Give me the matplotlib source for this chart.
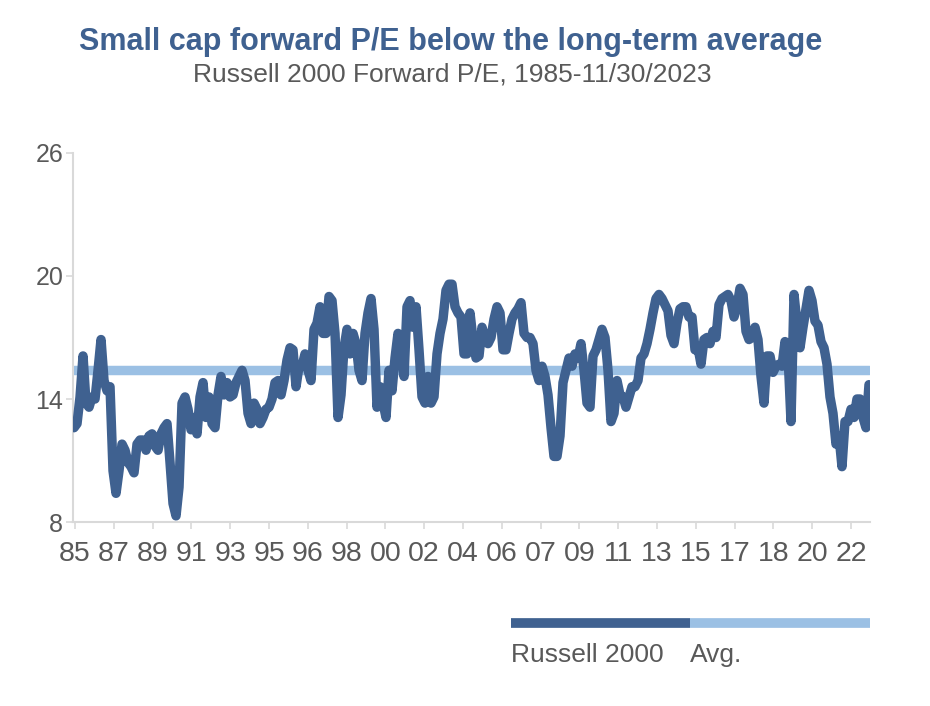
import numpy as np
import matplotlib
matplotlib.use('Agg')
import matplotlib.pyplot as plt
from matplotlib.lines import Line2D

# Russell 2000 forward P/E (roughly every 1.5 months, 1985 -> 11/2023)
pe_forward = [
    12.6, 12.8, 14.1, 16.1, 13.8, 13.6, 14.1, 14.0, 15.4, 16.9, 14.9, 14.4, 14.6, 10.5, 9.4, 10.5,
    11.8, 11.5, 10.9, 10.7, 10.4, 11.8, 12.0, 12.0, 11.5, 12.2, 12.3, 11.7, 11.5, 12.3, 12.6, 12.8,
    10.9, 8.9, 8.3, 9.7, 13.8, 14.1,
    13.5, 12.5, 13.1, 12.3, 14.1, 14.8, 13.1, 14.1, 12.8, 12.6, 14.2, 15.1, 14.2, 14.8, 14.1, 14.2,
    14.8, 15.1, 15.4, 14.9, 13.3, 12.8, 13.8, 13.5, 12.8, 13.1, 13.5, 13.6, 14.0, 14.8, 14.9, 14.2,
    14.9, 15.9, 16.5, 16.4, 14.6, 15.6,
    15.6, 16.2, 15.4, 14.9, 17.4, 17.7, 18.5, 17.2, 17.2, 19.0, 18.8, 17.2, 13.1, 14.2, 16.5, 17.4,
    16.2, 17.2, 16.7, 15.4, 14.9, 17.2, 18.2, 18.9, 17.4, 13.6, 14.6, 13.8, 13.1, 15.4, 14.4, 16.0,
    17.2, 16.7, 15.1, 18.5, 18.8, 17.5,
    18.5, 16.4, 14.1, 13.8, 15.1, 13.8, 14.1, 16.2, 17.2, 17.9, 19.3, 19.6, 19.6, 18.5, 18.2, 18.0,
    16.2, 16.2, 18.2, 16.9, 16.0, 16.1, 17.5, 17.0, 16.7, 17.0, 17.9, 18.5, 18.2, 16.4, 16.4, 17.2,
    17.9, 18.2, 18.4, 18.7, 17.2, 17.0,
    17.0, 16.7, 15.4, 14.9, 15.6, 15.1, 14.2, 12.6, 11.2, 11.2, 12.2, 14.8, 15.4, 16.0, 15.6, 16.2,
    16.0, 16.7, 15.4, 13.8, 13.6, 16.1, 16.4, 16.9, 17.4, 17.0, 15.4, 12.9, 13.3, 14.9, 14.2, 14.1,
    13.6, 14.1, 14.6, 14.6, 14.9, 16.0,
    16.2, 16.7, 17.4, 18.2, 18.9, 19.1, 18.9, 18.6, 18.3, 17.1, 16.7, 17.7, 18.4, 18.5, 18.5, 18.0,
    18.0, 16.4, 16.5, 15.7, 16.9, 17.0, 16.7, 17.3, 17.0, 18.6, 18.9, 19.0, 19.1, 18.8, 18.0, 18.5,
    19.4, 19.1, 17.3, 16.9, 17.0, 17.5,
    16.9, 15.1, 13.8, 16.1, 16.1, 15.3, 15.6, 15.7, 15.6, 16.8, 16.2, 12.9, 19.1, 17.7, 16.5, 17.5,
    18.4, 19.3, 18.8, 17.8, 17.6, 16.8, 16.5, 15.7, 14.1, 13.3, 11.8, 12.2, 10.7, 12.9, 12.9, 13.5,
    13.1, 14.0, 14.0, 13.1, 12.6, 14.7,
]
avg_pe = 15.4
start_year = 1985.0
end_year = 2023 + 11 / 12

tick_labels = ['85', '87', '89', '91', '93', '95', '96', '98', '00', '02', '04',
               '06', '07', '09', '11', '13', '15', '17', '18', '20', '22']
y_ticks = [8, 14, 20, 26]

dark_blue = '#3F6190'
light_blue = '#9BC0E4'
gray_txt = '#595959'
axis_gray = '#D9D9D9'

years = np.linspace(start_year, end_year, len(pe_forward))
avg_line = [avg_pe] * len(years)

plt.rcParams['font.family'] = ['Liberation Sans', 'DejaVu Sans']

fig = plt.figure(figsize=(9.3, 7.06), dpi=100)
ax = fig.add_axes([0.0785, 0.2606, 0.857, 0.5227])

ax.plot(years, avg_line, color=light_blue, linewidth=6.8, solid_capstyle='round', zorder=2)
ax.plot(years, pe_forward, color=dark_blue, linewidth=6.8, solid_joinstyle='round',
        solid_capstyle='round', zorder=3)

ax.set_xlim(start_year - 0.05, end_year + 0.05)
ax.set_ylim(8, 26)
ax.set_yticks(y_ticks)
tick_pos = start_year + 0.05 + 1.899 * np.arange(len(tick_labels))
ax.set_xticks(tick_pos)
ax.set_xticklabels(tick_labels)

for side in ['top', 'right']:
    ax.spines[side].set_visible(False)
for side in ['left', 'bottom']:
    ax.spines[side].set_color(axis_gray)
    ax.spines[side].set_linewidth(1.5)

ax.tick_params(axis='both', colors=axis_gray, length=5, width=1.2, labelcolor=gray_txt)
ax.tick_params(axis='y', pad=2, labelsize=18)
ax.tick_params(axis='x', pad=9, labelsize=20.5)

# titulos
fig.text(0.485, 0.94, 'Small cap forward P/E below the long-term average', ha='center', va='center',
         fontsize=22, fontweight='bold', color=dark_blue)
fig.text(0.486, 0.895, 'Russell 2000 Forward P/E, 1985-11/30/2023', ha='center', va='center',
         fontsize=19, color=gray_txt)

# legenda manual (barras em cima, texto embaixo)
leg_y = 1 - 623 / 706
fig.add_artist(Line2D([511 / 930, 690 / 930], [leg_y, leg_y], color=dark_blue, linewidth=7,
                      solid_capstyle='butt', transform=fig.transFigure))
fig.add_artist(Line2D([690 / 930, 870 / 930], [leg_y, leg_y], color=light_blue, linewidth=7,
                      solid_capstyle='butt', transform=fig.transFigure))
fig.text(511 / 930, 1 - 655 / 706, 'Russell 2000', ha='left', va='center', fontsize=19, color=gray_txt)
fig.text(690 / 930, 1 - 655 / 706, 'Avg.', ha='left', va='center', fontsize=19, color=gray_txt)

fig.savefig('out.png', dpi=100)
